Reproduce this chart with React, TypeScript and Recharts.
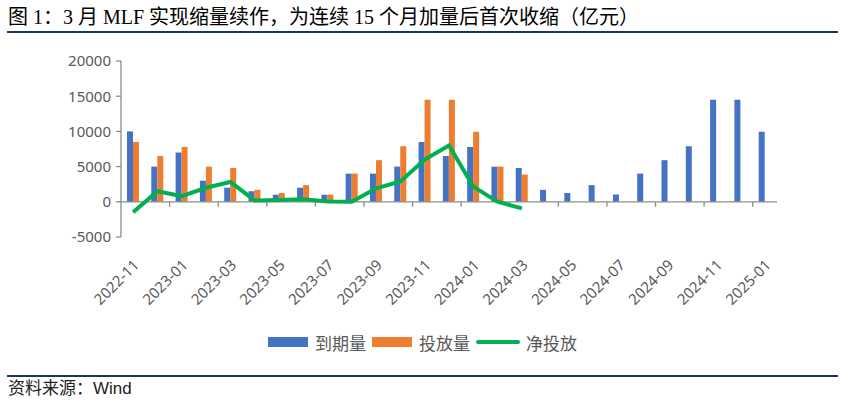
import React from 'react';
import { ComposedChart, Bar, Line, XAxis, YAxis, ReferenceLine } from 'recharts';

const months = [
  '2022-11', '2022-12', '2023-01', '2023-02', '2023-03', '2023-04', '2023-05', '2023-06', '2023-07',
  '2023-08', '2023-09', '2023-10', '2023-11', '2023-12', '2024-01', '2024-02', '2024-03', '2024-04',
  '2024-05', '2024-06', '2024-07', '2024-08', '2024-09', '2024-10', '2024-11', '2024-12', '2025-01',
];
const maturity = [
  10000, 5000, 7000, 3000, 2000, 1500, 1000, 2000, 1000,
  4000, 4000, 5000, 8500, 6500, 7790, 4990, 4810, 1700,
  1250, 2370, 1030, 4010, 5910, 7890, 14500, 14500, 9950,
];
const issuance: (number | null)[] = [
  8500, 6500, 7790, 4990, 4810, 1700, 1250, 2370, 1030,
  4010, 5910, 7890, 14500, 14500, 9950, 5000, 3870, null,
  null, null, null, null, null, null, null, null, null,
];
const netInjection: (number | null)[] = [
  -1500, 1500, 790, 1990, 2810, 200, 250, 370, 30,
  10, 1910, 2890, 6000, 8000, 2160, 10, -940, null,
  null, null, null, null, null, null, null, null, null,
];
const yTicks = [-5000, 0, 5000, 10000, 15000, 20000];
const labelMonths = months.filter((_, i) => i % 2 === 0);

const data = months.map((m, i) => ({
  month: m,
  maturity: maturity[i],
  issuance: issuance[i],
  net: netInjection[i],
}));

const AXIS_COLOR = '#8c8c8c';
const TEXT_COLOR = '#595959';
const FONT = '"Noto Sans", "Noto Sans CJK SC", sans-serif';

const XTick = (props: any) => {
  const { x, y, payload } = props;
  if (!labelMonths.includes(payload.value)) return null;
  const ax = x + 7;
  const ay = y + 29;
  return (
    <text
      x={ax}
      y={ay}
      transform={`rotate(-45, ${ax}, ${ay})`}
      textAnchor="end"
      fill={TEXT_COLOR}
      fontSize={15}
      fontFamily={FONT}
    >
      {payload.value}
    </text>
  );
};

const ZeroAxis = (props: any) => {
  const { x1, y1, x2, y2 } = props;
  const n = months.length;
  const step = (x2 - x1) / n;
  const ticks: number[] = [];
  for (let k = 2; k < n; k += 2) ticks.push(x1 + k * step);
  return (
    <g>
      <line x1={x1} y1={y1} x2={x2} y2={y2} stroke={AXIS_COLOR} strokeWidth={1.3} />
      {ticks.map((tx, i) => (
        <line key={i} x1={tx} y1={y1} x2={tx} y2={y1 + 5} stroke={AXIS_COLOR} strokeWidth={1.3} />
      ))}
    </g>
  );
};

const legendItems = [
  { label: '到期量', color: '#4472C4', type: 'rect' },
  { label: '投放量', color: '#ED7D31', type: 'rect' },
  { label: '净投放', color: '#00B050', type: 'line' },
];

export default function App() {
  return (
    <div
      style={{
        position: 'absolute',
        left: 0,
        top: 0,
        width: 845,
        height: 402,
        background: '#ffffff',
        overflow: 'hidden',
      }}
    >
      <div
        style={{
          position: 'absolute',
          left: 8,
          top: 5,
          fontSize: 20,
          lineHeight: '24px',
          whiteSpace: 'nowrap',
          color: '#000',
          fontFamily: '"Liberation Serif", "Noto Sans CJK SC", serif',
        }}
      >
        图 1：3 月 MLF 实现缩量续作，为连续 15 个月加量后首次收缩（亿元）
      </div>
      <div style={{ position: 'absolute', left: 7, top: 31, width: 831, height: 2, background: '#17365D' }} />

      <div style={{ position: 'absolute', left: 0, top: 0 }}>
        <ComposedChart
          width={845}
          height={370}
          data={data}
          margin={{ top: 61, right: 68, bottom: 73, left: 61 }}
          barGap={0}
          barSize={6}
        >
          <XAxis
            dataKey="month"
            interval={0}
            axisLine={false}
            tickLine={false}
            tickSize={0}
            tickMargin={0}
            height={60}
            tick={<XTick />}
          />
          <YAxis
            domain={[-5000, 20000]}
            ticks={yTicks}
            width={60}
            axisLine={{ stroke: AXIS_COLOR, strokeWidth: 1.3 }}
            tickLine={{ stroke: AXIS_COLOR, strokeWidth: 1.3 }}
            tickSize={5}
            tickMargin={5}
            tick={{ fill: TEXT_COLOR, fontSize: 15, fontFamily: FONT }}
            allowDataOverflow
          />
          <Bar dataKey="maturity" fill="#4472C4" isAnimationActive={false} />
          <Bar dataKey="issuance" fill="#ED7D31" isAnimationActive={false} />
          <ReferenceLine y={0} shape={<ZeroAxis />} />
          <Line
            dataKey="net"
            stroke="#00B050"
            strokeWidth={4}
            dot={false}
            activeDot={false}
            type="linear"
            isAnimationActive={false}
          />
        </ComposedChart>
      </div>

      <div
        style={{
          position: 'absolute',
          left: 268,
          top: 331,
          display: 'flex',
          alignItems: 'center',
          height: 22,
          fontFamily: '"Noto Sans CJK SC", sans-serif',
          fontSize: 17,
          color: TEXT_COLOR,
          whiteSpace: 'nowrap',
        }}
      >
        {legendItems.map((it) => (
          <div key={it.label} style={{ display: 'flex', alignItems: 'center', marginRight: 6 }}>
            {it.type === 'rect' ? (
              <div style={{ width: 40, height: 10, background: it.color, marginRight: 7 }} />
            ) : (
              <div style={{ width: 44, height: 4, borderRadius: 2, background: it.color, marginRight: 6 }} />
            )}
            <span>{it.label}</span>
          </div>
        ))}
      </div>

      <div style={{ position: 'absolute', left: 7, top: 375, width: 831, height: 2, background: '#17365D' }} />
      <div
        style={{
          position: 'absolute',
          left: 8,
          top: 378,
          fontSize: 17,
          lineHeight: '22px',
          whiteSpace: 'nowrap',
          color: '#222',
          fontFamily: '"Liberation Sans", "Noto Sans CJK SC", sans-serif',
        }}
      >
        资料来源：Wind
      </div>
    </div>
  );
}
